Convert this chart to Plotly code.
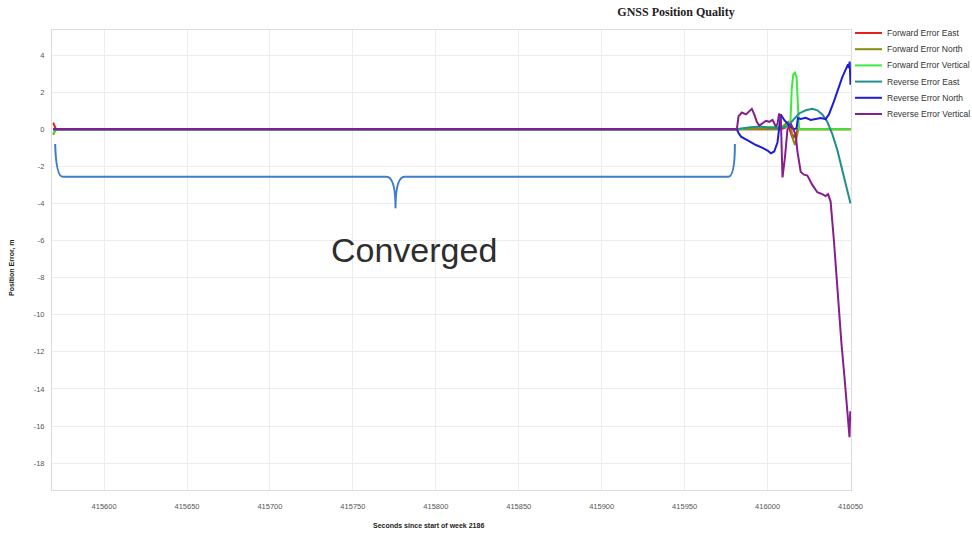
import plotly.graph_objects as go

# ---- Series data: time (s since start of GPS week) and error (m) ----
fwd_east_t = [415569.3, 415571, 416008, 416011, 416012.5, 416014, 416015, 416016, 416017, 416018, 416050]
fwd_east_v = [0.35, 0.0, 0.0, 0.1, 0.2, -0.15, -0.45, -0.3, -0.5, 0.0, 0.0]

fwd_north_t = [415569.3, 415571, 416006, 416009, 416011, 416012.5, 416014, 416015.5, 416016.5, 416017.5, 416018.5, 416050]
fwd_north_v = [-0.3, 0.0, 0.0, 0.15, 0.3, 0.4, 0.1, -0.6, -0.85, -0.3, 0.0, 0.0]

fwd_vert_t = [415569.3, 415571, 415984, 415988, 415993, 415998, 416003, 416008, 416012, 416013.8, 416014.6,
              416015.5, 416016.5, 416017.5, 416018.3, 416019, 416050]
fwd_vert_v = [-0.25, 0.0, 0.0, 0.08, 0.12, 0.1, 0.12, 0.15, 0.12, 0.4, 2.2, 2.95, 3.05, 2.8, 1.0, 0.0, 0.0]

rev_east_t = [415569.3, 415981.5, 415985, 415990, 415995, 416000, 416004, 416008, 416011, 416014, 416017,
              416019, 416023, 416027, 416030, 416033, 416036, 416039, 416042, 416045, 416048, 416050]
rev_east_v = [0.0, 0.0, 0.05, 0.12, 0.15, 0.1, 0.08, 0.05, 0.15, 0.35, 0.65, 0.85, 1.02, 1.1, 1.02, 0.8,
              0.4, -0.25, -1.1, -2.2, -3.3, -4.0]

rev_north_t = [415569.3, 415981.5, 415982.5, 415984, 415988, 415990, 415993, 415997, 416000, 416002, 416004,
               416006, 416007, 416008, 416010, 416013, 416016, 416017.5, 416018.3, 416020, 416023, 416026,
               416029, 416032, 416035, 416037, 416040, 416043, 416045, 416047, 416048.5, 416049, 416049.5, 416050]
rev_north_v = [0.0, 0.0, -0.2, -0.4, -0.6, -0.7, -0.85, -1.0, -1.15, -1.3, -1.2, -0.7, 0.2, 0.8, 0.5, 0.2,
               0.0, 0.05, 0.6, 0.55, 0.62, 0.5, 0.55, 0.6, 0.55, 0.8, 1.5, 2.3, 2.8, 3.2, 3.5, 3.3, 3.65, 2.4]

rev_vert_t = [415569.3, 415981.5, 415982.5, 415984.5, 415987, 415989, 415990.5, 415992, 415993.5, 415995,
              415997, 415999, 416001, 416003, 416005, 416006, 416007, 416008, 416009, 416010.5, 416012,
              416014, 416016, 416017, 416018, 416020, 416022, 416024, 416027, 416030, 416033, 416035,
              416036.5, 416038, 416040, 416042, 416044.5, 416046.4, 416048.2, 416049, 416049.4, 416049.8, 416050]
rev_vert_v = [0.0, 0.0, 0.7, 0.9, 0.8, 1.0, 1.1, 0.8, 0.4, 0.2, 0.35, 0.45, 0.4, 0.5, 0.15, 0.3, 0.85, 0.6,
              -2.6, -1.5, 0.0, 0.3, -0.1, -0.3, -1.2, -2.3, -2.45, -2.5, -3.0, -3.4, -3.5, -3.6, -3.5, -3.9,
              -6.0, -8.5, -11.5, -13.4, -15.3, -15.8, -16.6, -15.3, -15.2]

series = [
    ("Forward Error East", fwd_east_t, fwd_east_v, "#e0201e"),
    ("Forward Error North", fwd_north_t, fwd_north_v, "#8a8a12"),
    ("Forward Error Vertical", fwd_vert_t, fwd_vert_v, "#3fe83f"),
    ("Reverse Error East", rev_east_t, rev_east_v, "#238f8c"),
    ("Reverse Error North", rev_north_t, rev_north_v, "#1c1ed8"),
    ("Reverse Error Vertical", rev_vert_t, rev_vert_v, "#861e8c"),
]

x_ticks = [415600, 415650, 415700, 415750, 415800, 415850, 415900, 415950, 416000, 416050]
y_ticks = [4, 2, 0, -2, -4, -6, -8, -10, -12, -14, -16, -18]

# Brace marking the converged interval
brace_start, brace_end = 415570.5, 415980.3
brace_top, brace_level, brace_tip = -0.8, -2.56, -4.26
brace_mid = 415775.7

W, H = 972, 533
M_L, M_R, M_T, M_B = 52, 121, 30, 43
PW, PH = W - M_L - M_R, H - M_T - M_B


def px_x(px):
    """Horizontal pixel position -> paper coordinate."""
    return (px - M_L) / PW


def px_y(py):
    """Vertical pixel position (from top) -> paper coordinate."""
    return (H - M_B - py) / PH


fig = go.Figure()
for name, t, v, color in series:
    fig.add_trace(go.Scatter(x=t, y=v, mode="lines", name=name, showlegend=False,
                             line=dict(color=color, width=2)))

brace_path = (
    f"M {brace_start},{brace_top} "
    f"Q {brace_start + 0.6},{brace_level} {brace_start + 4.5},{brace_level} "
    f"L {brace_mid - 5.5},{brace_level} "
    f"Q {brace_mid},{brace_level} {brace_mid},{brace_tip} "
    f"Q {brace_mid},{brace_level} {brace_mid + 5.5},{brace_level} "
    f"L {brace_end - 4.0},{brace_level} "
    f"Q {brace_end},{brace_level} {brace_end},{brace_top}"
)
fig.add_shape(type="path", path=brace_path, xref="x", yref="y",
              line=dict(color="#3f7dcb", width=2))

fig.add_annotation(x=brace_mid + 11, y=-6.5, xref="x", yref="y", text="Converged",
                   showarrow=False, font=dict(family="Liberation Sans, Arial", size=34, color="#2e2e2e"))

# Compact legend at the right of the plot area (16 px per entry)
legend_font = dict(family="Liberation Sans, Arial", size=8.5, color="#333333")
for i, (name, _, _, color) in enumerate(series):
    yp = px_y(33 + 16.2 * i)
    fig.add_shape(type="line", xref="paper", yref="paper",
                  x0=px_x(855), x1=px_x(882), y0=yp, y1=yp,
                  line=dict(color=color, width=2))
    fig.add_annotation(xref="paper", yref="paper", x=px_x(885), y=yp, text=name,
                       showarrow=False, xanchor="left", yanchor="middle", font=legend_font)

axis_font = dict(family="Liberation Sans, Arial", size=7.5, color="#555555")
title_font = dict(family="Liberation Sans, Arial", size=7, color="#222222")

# Axis titles
fig.add_annotation(xref="paper", yref="paper", x=px_x(428), y=px_y(525),
                   text="<b>Seconds since start of week 2186</b>", showarrow=False,
                   xanchor="center", yanchor="middle", font=title_font)
fig.add_annotation(xref="paper", yref="paper", x=px_x(12), y=px_y(268),
                   text="<b>Position Error, m</b>", showarrow=False, textangle=-90,
                   xanchor="center", yanchor="middle", font=title_font)

fig.update_layout(
    width=W, height=H,
    margin=dict(l=M_L, r=M_R, t=M_T, b=M_B, autoexpand=False),
    paper_bgcolor="white", plot_bgcolor="white",
    title=dict(text="<b>GNSS Position Quality</b>", x=676 / W, xref="container", xanchor="center",
               y=1 - 12 / H, yref="container", yanchor="middle",
               font=dict(family="Liberation Serif, Times New Roman", size=12, color="#222222")),
    showlegend=False,
    xaxis=dict(range=[415568.6, 416050.3], tickvals=x_ticks, ticktext=[str(v) for v in x_ticks],
               tickfont=axis_font, showgrid=True, gridcolor="#ececec", gridwidth=1,
               zeroline=False, showline=True, linecolor="#dddddd", mirror=True,
               ticks="", ticklabelstandoff=9, automargin=False),
    yaxis=dict(range=[-19.45, 5.35], tickvals=y_ticks, ticktext=[str(v) for v in y_ticks],
               tickfont=axis_font, showgrid=True, gridcolor="#ececec", gridwidth=1,
               zeroline=False, showline=True, linecolor="#dddddd", mirror=True,
               ticks="", ticklabelstandoff=5, automargin=False),
)

fig.write_html("out.html")
